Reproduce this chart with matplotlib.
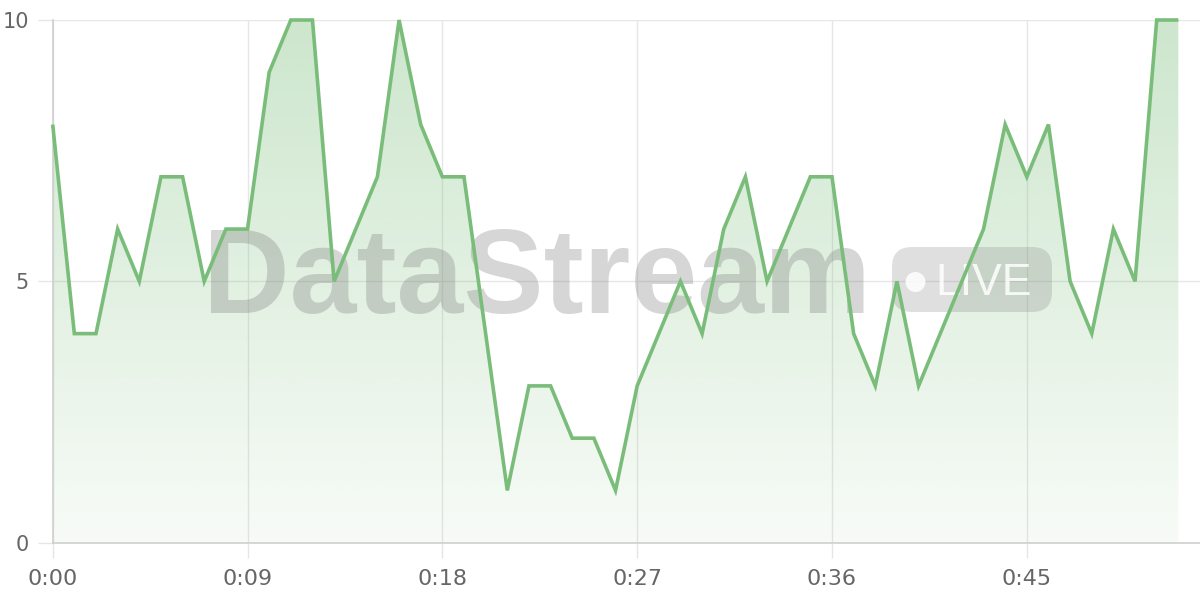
import matplotlib
matplotlib.use("Agg")
import matplotlib.pyplot as plt
import matplotlib.transforms as mtransforms
from matplotlib.patches import FancyBboxPatch, Circle
import numpy as np

# ---- data ----
seconds = list(range(53))
values = [8, 4, 4, 6, 5, 7, 7, 5, 6, 6,
          9, 10, 10, 5, 6, 7, 10, 8, 7, 7,
          4, 1, 3, 3, 2, 2, 1, 3, 4, 5,
          4, 6, 7, 5, 6, 7, 7, 4, 3, 5,
          3, 4, 5, 6, 8, 7, 8, 5, 4, 6,
          5, 10, 10]
xtick_pos = [0, 9, 18, 27, 36, 45]
xtick_labels = ["0:00", "0:09", "0:18", "0:27", "0:36", "0:45"]
ytick_pos = [0, 5, 10]
ytick_labels = ["0", "5", "10"]

LINE = "#7abd7a"
TEXT = "#666666"

fig = plt.figure(figsize=(12, 6), dpi=100)
ax = fig.add_axes([52.7 / 1200, 1 - 542.7 / 600, 1147.3 / 1200, (542.7 - 20) / 600])
ax.set_xlim(0, 53)
ax.set_ylim(0, 10)

# gradient fill under the line
poly = ax.fill_between(seconds, values, 0, color="none", lw=0, zorder=1)
grad = np.zeros((256, 2, 4))
rgb = np.array([122, 189, 122]) / 255
grad[..., :3] = rgb
alphas = np.linspace(0.38, 0.06, 256)
grad[..., 3] = alphas[:, None]
im = ax.imshow(grad, extent=[0, 53, 0, 10], origin="upper", aspect="auto",
               zorder=1, interpolation="bilinear")
path = poly.get_paths()[0]
im.set_clip_path(path, transform=ax.transData)

# line
ax.plot(seconds, values, color=LINE, lw=2.6, zorder=4, clip_on=False,
        solid_joinstyle="miter", solid_capstyle="butt")

# watermark (between fill and line)
ident = mtransforms.IdentityTransform()
wm_gray = (0.5, 0.5, 0.5)
ax.text(203, 600 - 313, "DataStream", transform=ident, ha="left", va="baseline",
        fontsize=86.5, fontweight="bold", family="Liberation Sans",
        color=wm_gray, alpha=0.32, zorder=3)
badge = FancyBboxPatch((892, 600 - 312), 160, 65,
                       boxstyle="round,pad=0,rounding_size=20",
                       transform=ident, facecolor=wm_gray, edgecolor="none",
                       alpha=0.25, zorder=3)
ax.add_artist(badge)
circ = Circle((915.5, 600 - 282), 10, transform=ident, facecolor="white",
              edgecolor="none", alpha=0.85, zorder=3.1)
ax.add_artist(circ)
ax.text(935, 600 - 295, "LIVE", transform=ident, ha="left", va="baseline",
        fontsize=32, family="Liberation Sans", color="white", alpha=0.85,
        zorder=3.1)

# grid & spines
ax.set_axisbelow(True)
ax.grid(True, color="#e6e6e6", lw=1.0)
for s in ["top", "right"]:
    ax.spines[s].set_visible(False)
for s in ["left", "bottom"]:
    ax.spines[s].set_color("#cfcfcf")
    ax.spines[s].set_linewidth(1.2)

ax.set_xticks(xtick_pos)
ax.set_xticklabels(xtick_labels)
ax.set_yticks(ytick_pos)
ax.set_yticklabels(ytick_labels)
ax.tick_params(axis="both", length=11, width=1.0, color="#e6e6e6",
               labelcolor=TEXT)
ax.tick_params(axis="x", pad=8, labelsize=16)
ax.tick_params(axis="y", pad=6, labelsize=15)
for lab in ax.get_xticklabels() + ax.get_yticklabels():
    lab.set_family("DejaVu Sans")

fig.savefig("out.png", dpi=100)
